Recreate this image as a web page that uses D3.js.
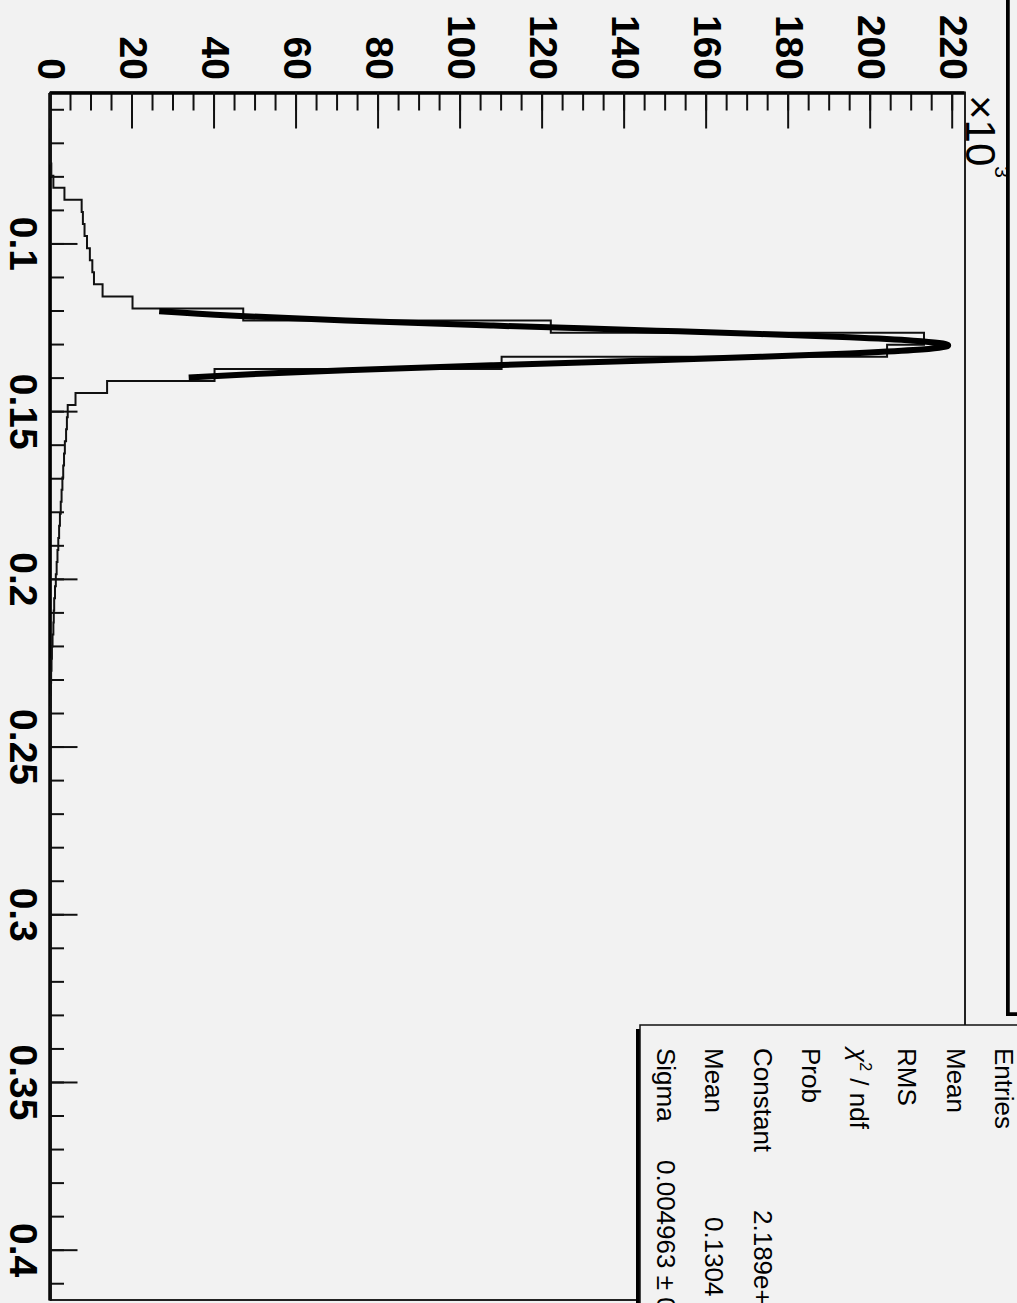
<!DOCTYPE html>
<html>
<head>
<meta charset="utf-8">
<script src="https://cdn.jsdelivr.net/npm/d3@7"></script>
<style>
body { margin: 0; background: #f2f2f2; }
svg { display: block; }
text { font-family: "Liberation Sans", Arial, Helvetica, sans-serif; fill: #000; }
</style>
</head>
<body>
<svg id="canvas" width="1017" height="1303"></svg>
<script>
// histogram: fixed bins starting at binLow, counts in units of 10^3
var binLow = 0.0762, binWidth = 0.0036;
var counts = [0.2, 0.7, 3.4, 7.6, 7.9, 8.3, 8.9, 9.6, 10.2, 10.6, 12.7, 20, 47, 122, 213, 204, 110, 40, 13.8, 6.1,
              4.2, 4.0, 3.8, 3.5, 3.3, 3.1, 2.9, 2.7, 2.5, 2.3, 2.1, 1.9, 1.7, 1.5, 1.3, 1.1, 0.9, 0.8, 0.7, 0.5,
              0.35, 0.25, 0.15, 0.1, 0.05];

// gaussian fit curve (x, counts in 10^3)
var fitX = [0.1202, 0.1215, 0.1230, 0.1245, 0.1260, 0.1270, 0.1280, 0.1290, 0.1297, 0.1304,
            0.1311, 0.1318, 0.1328, 0.1338, 0.1348, 0.1363, 0.1378, 0.1390, 0.1400];
var fitY = [26.5, 43.8, 72.0, 108.0, 147.8, 173.1, 194.8, 210.4, 216.7, 218.9,
            216.7, 210.4, 194.8, 173.1, 147.8, 108.0, 72.0, 48.8, 33.7];

var xTicks = [0.1, 0.15, 0.2, 0.25, 0.3, 0.35, 0.4];
var yTicks = [0, 20, 40, 60, 80, 100, 120, 140, 160, 180, 200, 220];

var statLabels = ["Entries", "Mean", "RMS", "chi", "Prob", "Constant", "Mean", "Sigma"];
var statValues = ["", "", "", "", "", "2.189e+05", "0.1304 \u00b1 ", "0.004963 \u00b1 0"];
var statValuePos = [0, 0, 0, 0, 0, 1210, 1217, 1160];

// the ROOT canvas is drawn in its own frame (1303 x 1017) and turned a quarter clockwise
var W = 1303, H = 1017;
var svg = d3.select("#canvas");
var g = svg.append("g").attr("transform", "translate(1017,0) rotate(90)");

g.append("rect").attr("x", -20).attr("y", -20).attr("width", W + 40).attr("height", H + 40).attr("fill", "#f2f2f2");

var x = d3.scaleLinear().domain([0.055, 0.415]).range([92.5, 1300]);
var y = d3.scaleLinear().domain([0, 223]).range([966.5, 52]);

// frame
g.append("rect")
    .attr("x", x.range()[0]).attr("y", y.range()[1])
    .attr("width", x.range()[1] - x.range()[0]).attr("height", y.range()[0] - y.range()[1])
    .attr("fill", "none").attr("stroke", "#222").attr("stroke-width", 2);

// minor ticks
g.append("g").attr("class", "minor").attr("transform", "translate(0," + y.range()[0] + ")")
    .call(d3.axisBottom(x).tickValues(d3.range(0.06, 0.415, 0.01)).tickSizeInner(-13.5).tickSizeOuter(0).tickFormat(""));
g.append("g").attr("class", "minor").attr("transform", "translate(" + x.range()[0] + ",0)")
    .call(d3.axisLeft(y).tickValues(d3.range(0, 223, 5)).tickSizeInner(-18).tickSizeOuter(0).tickFormat(""));

// major ticks and labels
var xAxis = g.append("g").attr("transform", "translate(0," + y.range()[0] + ")")
    .call(d3.axisBottom(x).tickValues(xTicks).tickSizeInner(-27).tickSizeOuter(0).tickPadding(13)
        .tickFormat(function (d) { return String(d); }));
var yAxis = g.append("g").attr("transform", "translate(" + x.range()[0] + ",0)")
    .call(d3.axisLeft(y).tickValues(yTicks).tickSizeInner(-36).tickSizeOuter(0).tickPadding(12.5)
        .tickFormat(function (d) { return String(d); }));

g.selectAll(".minor .domain").remove();
g.selectAll(".tick line").attr("stroke", "#111").attr("stroke-width", 2);
[xAxis, yAxis].forEach(function (a) {
    a.attr("font-family", null).attr("font-size", null);
    a.select(".domain").attr("stroke", "#000").attr("stroke-width", 3.5);
    a.selectAll("text").style("font-size", "39px").style("font-weight", "bold");
});

// x10^3 multiplier
var mult = g.append("text").attr("x", 95).attr("y", 51).style("font-size", "42px").text("\u00d710");
mult.append("tspan").attr("dy", -29).style("font-size", "21px").text("3");

// histogram outline
var pts = [[x.domain()[0], 0], [binLow, 0]];
counts.forEach(function (c, i) {
    pts.push([binLow + i * binWidth, c]);
    pts.push([binLow + (i + 1) * binWidth, c]);
});
pts.push([binLow + counts.length * binWidth, 0]);
pts.push([x.domain()[1], 0]);

g.append("path")
    .attr("d", d3.line().x(function (p) { return x(p[0]); }).y(function (p) { return y(p[1]); })(pts))
    .attr("fill", "none").attr("stroke", "#111").attr("stroke-width", 2);

// fit
g.append("path")
    .attr("d", d3.line().curve(d3.curveMonotoneX)
        .x(function (d, i) { return x(fitX[i]); })
        .y(function (d, i) { return y(fitY[i]); })(fitX))
    .attr("fill", "none").attr("stroke", "#000").attr("stroke-width", 6).attr("stroke-linejoin", "round");

// title box (mostly outside the picture)
g.append("rect").attr("x", -7).attr("y", -27).attr("width", 1023).attr("height", 38).attr("fill", "#000");
g.append("rect").attr("x", -10).attr("y", -30).attr("width", 1023).attr("height", 38)
    .attr("fill", "#f2f2f2").attr("stroke", "#000").attr("stroke-width", 1.5);

// stats box
g.append("rect").attr("x", 1029).attr("y", -26).attr("width", 400).attr("height", 407).attr("fill", "#000");
g.append("rect").attr("x", 1025).attr("y", -30).attr("width", 400).attr("height", 407)
    .attr("fill", "#f2f2f2").attr("stroke", "#111").attr("stroke-width", 1.5);

statLabels.forEach(function (lab, i) {
    var by = 22 + i * 48.3;
    var t = g.append("text").attr("x", 1048).attr("y", by).style("font-size", "26px");
    if (lab === "chi") {
        t.append("tspan").style("font-style", "italic").text("\u03c7");
        t.append("tspan").attr("dy", -10).style("font-size", "16px").text("2");
        t.append("tspan").attr("dy", 10).text(" / ndf");
    } else {
        t.text(lab);
    }
    if (statValues[i]) {
        g.append("text").attr("x", statValuePos[i]).attr("y", by).style("font-size", "26px").text(statValues[i]);
    }
});
</script>
</body>
</html>
